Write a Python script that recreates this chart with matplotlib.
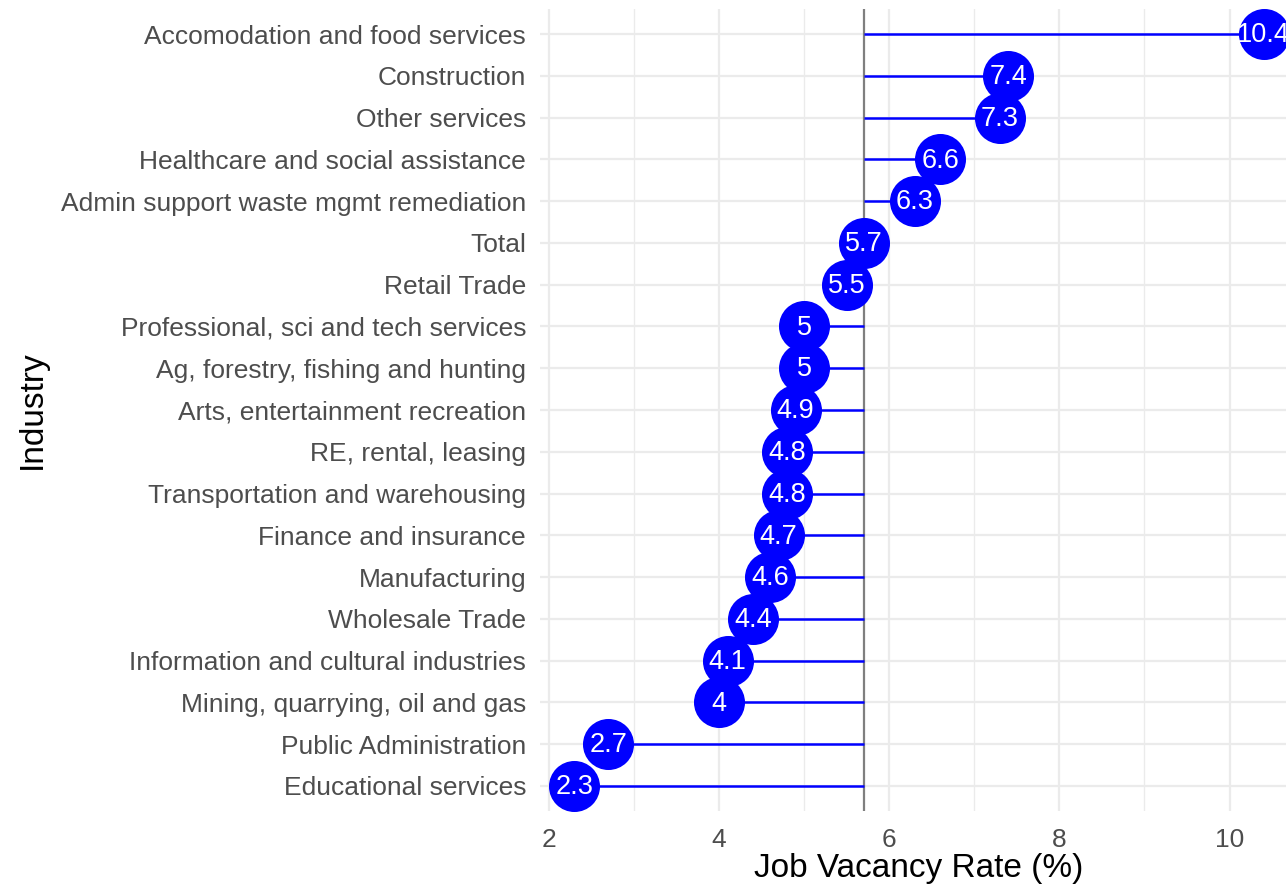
import matplotlib.pyplot as plt
import numpy as np

plt.rcParams['font.family'] = ['Liberation Sans', 'DejaVu Sans']

# top to bottom as shown
industries = ['Accomodation and food services', 'Construction', 'Other services',
              'Healthcare and social assistance', 'Admin support waste mgmt remediation',
              'Total', 'Retail Trade', 'Professional, sci and tech services',
              'Ag, forestry, fishing and hunting', 'Arts, entertainment recreation',
              'RE, rental, leasing', 'Transportation and warehousing',
              'Finance and insurance', 'Manufacturing', 'Wholesale Trade',
              'Information and cultural industries', 'Mining, quarrying, oil and gas',
              'Public Administration', 'Educational services']
rates = [10.4, 7.4, 7.3, 6.6, 6.3, 5.7, 5.5, 5.0, 5.0, 4.9, 4.8, 4.8, 4.7, 4.6,
         4.4, 4.1, 4.0, 2.7, 2.3]
total_rate = 5.7

ypos = np.arange(len(industries))[::-1]

W, H = 1286, 889
left, right, bottom, top = 540, 1298, 811, 9
fig = plt.figure(figsize=(W / 100, H / 100), dpi=100)
ax = fig.add_axes([left / W, (H - bottom) / H, (right - left) / W, (bottom - top) / H])
axw, axh = right - left, bottom - top

ax.set_xlim(1.895, 10.805)
ax.set_ylim(-0.6, len(industries) - 0.4)

# grid (theme_minimal look)
ax.set_xticks([2, 4, 6, 8, 10])
ax.set_xticks([3, 5, 7, 9], minor=True)
ax.set_yticks(ypos)
ax.set_yticklabels(industries)
ax.grid(True, which='major', color='#EBEBEB', linewidth=1.6)
ax.grid(True, which='minor', axis='x', color='#EBEBEB', linewidth=1.0)
ax.set_axisbelow(True)
for s in ax.spines.values():
    s.set_visible(False)
ax.tick_params(which='both', length=0)
ax.tick_params(axis='both', labelsize=19, labelcolor='#4D4D4D')
ax.tick_params(axis='y', pad=10)
ax.tick_params(axis='x', pad=12)

ax.axvline(total_rate, color='#7F7F7F', linewidth=1.6, zorder=2)
ax.hlines(ypos, total_rate, rates, color='#0000FF', linewidth=1.8, zorder=3)
ax.scatter(rates, ypos, s=1350, color='#0000FF', zorder=4, linewidths=0)
for x, y in zip(rates, ypos):
    ax.text(x, y - 0.03, f'{x:g}', color='white', fontsize=19.5, ha='center', va='center', zorder=5)

ax.set_xlabel('Job Vacancy Rate (%)', fontsize=24, color='black')
ax.set_ylabel('Industry', fontsize=24, color='black')
ax.xaxis.set_label_coords(0.5, -(853 - bottom) / axh)
ax.yaxis.set_label_coords(-(left - 48) / axw, 0.5)

fig.savefig('out.png', dpi=100)
